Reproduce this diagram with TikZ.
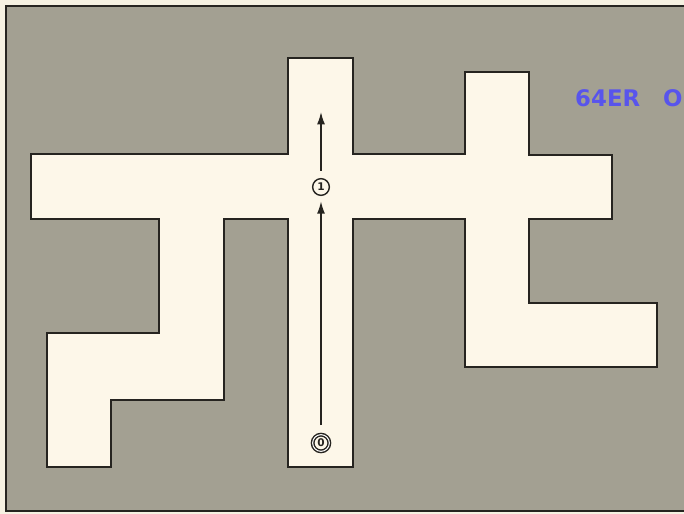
\documentclass[tikz,border=0pt]{standalone}
\usepackage{fontspec}
\usetikzlibrary{arrows.meta}

\definecolor{paper}{RGB}{246,241,226}
\definecolor{board}{RGB}{163,160,146}
\definecolor{floor}{RGB}{253,247,233}
\definecolor{ink}{RGB}{38,36,32}
\definecolor{stamp}{RGB}{88,84,236}

\newfontfamily\stampfont{DejaVu Sans}

\begin{document}
\begin{tikzpicture}[
                x=.02cm, y=-.02cm,
                wall/.style={line width=1.4pt, draw=ink, fill=floor, line join=miter},
                frame/.style={line width=1.2pt, draw=ink, fill=board},
                spot/.style={circle, draw=ink, line width=.8pt, inner sep=.5pt,
                    minimum size=9.5pt, font=\stampfont\bfseries\fontsize{6}{6}\selectfont, text=ink},
                path/.style={line width=.8pt, draw=ink, -{Latex[length=7pt,width=4.5pt]},
                    shorten <=5pt, shorten >=3pt},
            ]
                \clip (0, 0) rectangle (684, 514);
                \fill[paper] (0, 0) rectangle (684, 514);
                \draw[frame] (6, 6) rectangle (700, 511);

                %% the maze seen from above
                \draw[wall] (31, 154) -- (288, 154) -- (288, 58) -- (353, 58)
                    -- (353, 154) -- (465, 154) -- (465, 72) -- (529, 72)
                    -- (529, 155) -- (612, 155) -- (612, 219) -- (529, 219)
                    -- (529, 303) -- (657, 303) -- (657, 367) -- (465, 367)
                    -- (465, 219) -- (353, 219) -- (353, 467) -- (288, 467)
                    -- (288, 219) -- (224, 219) -- (224, 400) -- (111, 400)
                    -- (111, 467) -- (47, 467) -- (47, 333) -- (159, 333)
                    -- (159, 219) -- (31, 219) -- cycle;

                %% the two steps up the middle corridor
                \node[spot, double, double distance=.6pt] (start) at (321, 443) {0};
                \node[spot] (step) at (321, 187) {1};
                \coordinate (goal) at (321, 112);
                \draw[path] (start) -- (step);
                \draw[path, shorten <=4pt, shorten >=0pt] (step) -- (goal);

                %% stamp
                \node[anchor=west, text=stamp, font=\stampfont\bfseries\fontsize{13}{13}\selectfont]
                    (brand) at (569, 98) {64ER\hspace{1em}ONLINE};
            \end{tikzpicture}
\end{document}
